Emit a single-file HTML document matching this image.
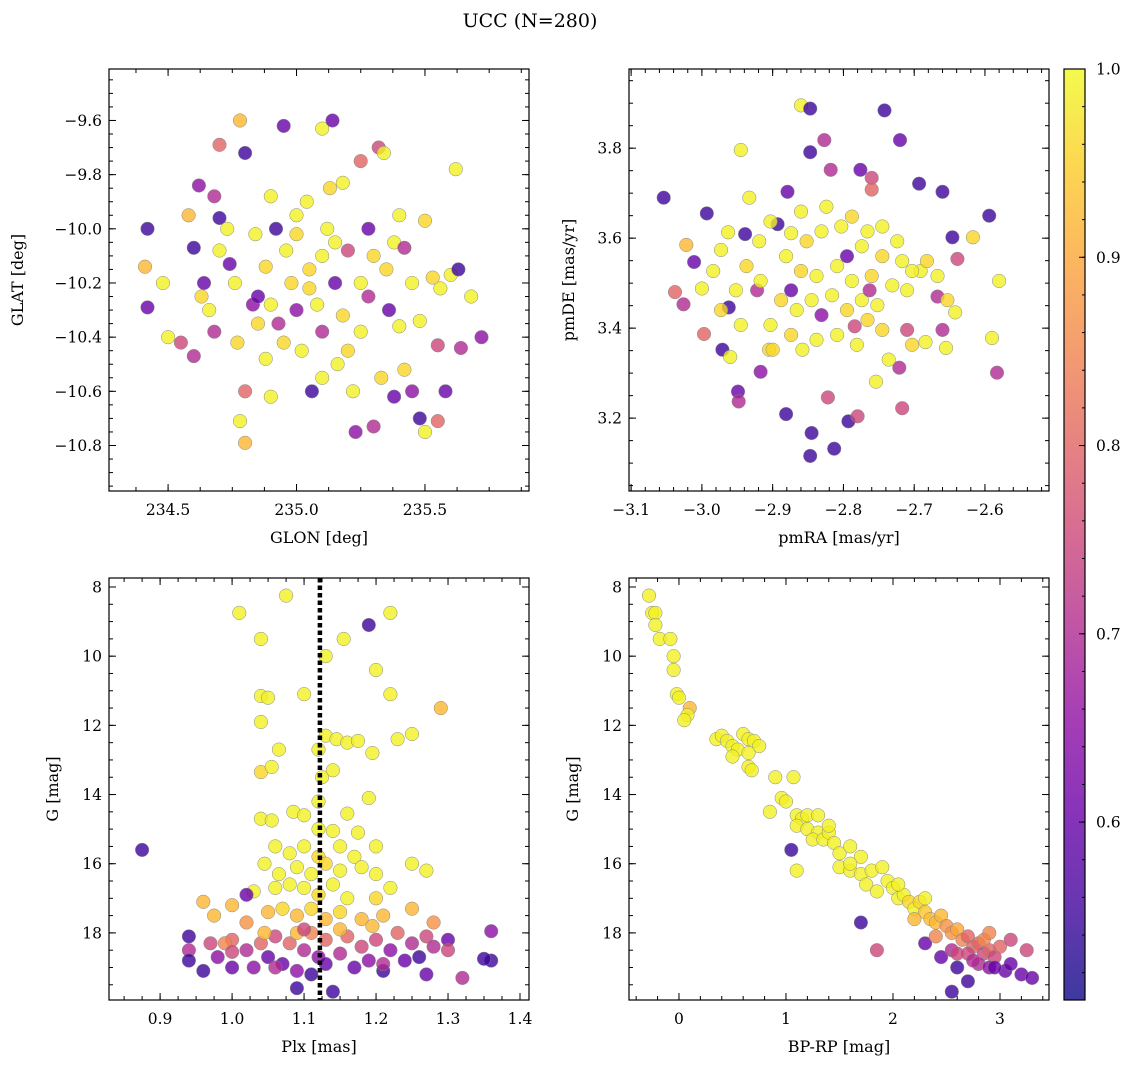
<!DOCTYPE html>
<html><head><meta charset="utf-8">
<style>
html,body{margin:0;padding:0;background:#fff;}
svg{display:block;font-family:"DejaVu Serif","Liberation Serif",serif;}
</style></head>
<body>
<svg id="fig" width="1136" height="1068" viewBox="0 0 1136 1068" xmlns="http://www.w3.org/2000/svg">
<text x="530" y="27" font-size="19" text-anchor="middle">UCC (N=280)</text>
</svg>
<script>
// ---- Panel 1: GLON / GLAT ----
const glon = [234.42,234.42,234.41,234.48,234.5,234.55,234.6,234.6,234.58,234.62,234.64,234.63,234.66,234.7,234.68,234.7,234.68,234.7,234.73,234.74,234.76,234.77,234.78,234.8,234.8,234.8,234.78,234.83,234.84,234.85,234.88,234.88,234.9,234.9,234.92,234.93,234.95,234.96,234.98,235.0,235.0,235.02,235.04,235.05,235.06,235.08,235.1,235.1,235.12,235.13,235.14,235.15,235.16,235.18,235.18,235.2,235.22,235.23,235.25,235.25,235.28,235.28,235.3,235.32,235.33,235.34,235.35,235.36,235.38,235.38,235.4,235.42,235.42,235.45,235.45,235.48,235.48,235.5,235.5,235.53,235.55,235.56,235.58,235.6,235.62,235.63,235.64,235.72,235.68,235.55,235.05,234.95,235.1,235.2,234.9,235.15,235.3,235.0,234.85,235.25,235.1,235.4];
const glat = [-10.0,-10.29,-10.14,-10.2,-10.4,-10.42,-10.47,-10.07,-9.95,-9.84,-10.2,-10.25,-10.3,-9.69,-9.88,-10.08,-10.38,-9.96,-10.0,-10.13,-10.2,-10.42,-9.6,-9.72,-10.6,-10.79,-10.71,-10.28,-10.02,-10.25,-10.48,-10.14,-9.88,-10.62,-10.0,-10.35,-9.62,-10.08,-10.2,-10.02,-10.3,-10.45,-9.9,-10.15,-10.6,-10.28,-9.63,-10.38,-10.0,-9.85,-9.6,-10.2,-10.5,-9.83,-10.32,-10.08,-10.6,-10.75,-9.75,-10.38,-10.0,-10.25,-10.73,-9.7,-10.55,-9.72,-10.15,-10.3,-10.62,-10.05,-10.36,-10.52,-10.07,-10.6,-10.2,-10.7,-10.34,-9.97,-10.75,-10.18,-10.43,-10.22,-10.6,-10.17,-9.78,-10.15,-10.44,-10.4,-10.25,-10.71,-10.22,-10.42,-10.1,-10.45,-10.28,-10.05,-10.1,-9.95,-10.35,-10.2,-10.55,-9.95];
const prob1 = [.55,.6,.92,.99,.99,.75,.7,.55,.92,.65,.6,.96,.99,.8,.7,.99,.7,.55,.99,.6,.99,.96,.92,.55,.8,.92,.99,.65,.99,.6,.99,.96,.99,.99,.55,.7,.6,.99,.96,.96,.65,.99,.99,.96,.55,.99,.99,.7,.99,.96,.6,.6,.99,.99,.96,.75,.99,.65,.8,.99,.6,.7,.7,.75,.96,.99,.96,.6,.6,.99,.99,.96,.7,.65,.99,.55,.99,.96,.99,.96,.75,.99,.6,.99,.99,.55,.7,.65,.99,.8,.96,.96,.99,.96,.99,.99,.96,.99,.96,.99,.99,.99];

// ---- Panel 2: pmRA / pmDE ----
const pmra = [-3.054,-3.038,-3.022,-3.026,-3.011,-2.997,-2.993,-3.000,-2.984,-2.963,-2.973,-2.962,-2.971,-2.949,-2.948,-2.960,-2.945,-2.933,-2.939,-2.922,-2.917,-2.905,-2.893,-2.881,-2.879,-2.860,-2.847,-2.827,-2.845,-2.847,-2.822,-2.818,-2.847,-2.813,-2.793,-2.780,-2.776,-2.742,-2.720,-2.760,-2.760,-2.717,-2.693,-2.660,-2.594,-2.583,-2.580,-2.590,-2.639,-2.646,-2.667,-2.617,-2.660,-2.655,-2.653,-2.642,-2.691,-2.684,-2.710,-2.721,-2.736,-2.754,-2.745,-2.766,-2.784,
-2.903,-2.874,-2.852,-2.831,-2.803,-2.774,-2.745,-2.717,-2.881,-2.860,-2.838,-2.809,-2.788,-2.760,-2.731,-2.710,-2.888,-2.866,-2.845,-2.816,-2.795,-2.774,-2.752,-2.903,-2.874,-2.838,-2.809,-2.781,-2.917,-2.937,-2.952,-2.973,-2.945,-2.860,-2.824,-2.788,-2.766,-2.745,-2.724,-2.703,-2.682,-2.667,-2.831,-2.874,-2.795,-2.763,-2.919,-2.900,-2.858,-2.703];
const pmde = [3.69,3.48,3.585,3.453,3.547,3.387,3.655,3.488,3.527,3.613,3.574,3.446,3.352,3.259,3.237,3.336,3.796,3.69,3.609,3.484,3.303,3.352,3.631,3.209,3.703,3.895,3.791,3.818,3.167,3.116,3.246,3.752,3.888,3.132,3.193,3.204,3.752,3.884,3.818,3.734,3.708,3.222,3.721,3.703,3.65,3.301,3.505,3.378,3.554,3.602,3.47,3.602,3.396,3.356,3.462,3.435,3.527,3.369,3.396,3.312,3.33,3.281,3.396,3.418,3.404,
3.637,3.611,3.593,3.615,3.626,3.582,3.56,3.549,3.56,3.527,3.516,3.538,3.505,3.516,3.495,3.484,3.462,3.44,3.462,3.473,3.44,3.462,3.451,3.407,3.385,3.374,3.385,3.363,3.505,3.538,3.484,3.44,3.407,3.659,3.67,3.648,3.615,3.626,3.593,3.527,3.549,3.516,3.429,3.484,3.56,3.484,3.593,3.352,3.352,3.363];
const prob2 = [.55,.8,.92,.7,.6,.8,.55,.99,.99,.99,.99,.55,.55,.6,.7,.99,.99,.99,.55,.7,.65,.96,.55,.55,.6,.99,.55,.7,.55,.55,.75,.7,.55,.55,.55,.75,.6,.55,.6,.75,.8,.75,.55,.55,.55,.7,.99,.99,.75,.55,.7,.96,.7,.99,.96,.99,.99,.99,.75,.7,.99,.99,.96,.96,.75,
.99,.99,.96,.99,.99,.99,.96,.99,.99,.96,.99,.99,.99,.96,.99,.99,.96,.99,.99,.99,.96,.99,.99,.99,.96,.99,.99,.99,.99,.96,.99,.96,.99,.99,.99,.96,.99,.99,.99,.99,.96,.99,.65,.6,.6,.7,.99,.96,.99,.96];

// ---- Panel 3: Plx / G ----
const plx = [1.01,1.075,1.22,1.04,1.155,1.19,1.13,1.2,1.1,1.04,1.05,1.04,1.22,1.29,1.065,1.12,1.13,1.145,1.16,1.175,1.23,1.25,1.195,1.125,1.04,1.055,1.14,1.04,1.055,1.085,1.1,1.12,1.16,1.19,1.12,1.14,1.175,1.06,1.08,1.1,1.12,1.15,1.17,1.2,1.045,1.065,1.09,1.11,1.13,1.15,1.18,1.2,1.25,1.27,1.03,1.06,1.08,1.1,1.12,1.14,1.16,1.2,1.22,0.96,0.975,1.0,1.02,1.05,1.07,1.09,1.11,1.13,1.15,1.18,1.21,1.25,1.28,
0.875,0.94,0.94,0.94,0.96,0.97,0.98,1.0,1.0,1.02,1.03,1.04,1.05,1.06,1.07,1.08,1.09,1.1,1.11,1.11,1.12,1.13,1.14,1.15,1.16,1.17,1.18,1.19,1.2,1.21,1.22,1.23,1.24,1.25,1.26,1.27,1.28,1.3,1.32,1.36,1.36,1.35,1.02,1.045,1.09,1.15,1.195,1.1,0.99,1.3,1.27,1.09,1.21,1.13,1.06,1.0];
const gmag1 = [8.75,8.25,8.75,9.5,9.5,9.1,10.0,10.4,11.1,11.15,11.2,11.9,11.1,11.5,12.7,12.7,12.3,12.4,12.5,12.45,12.4,12.25,12.8,13.5,13.35,13.2,13.3,14.7,14.75,14.5,14.6,14.2,14.55,14.1,15.0,15.05,15.1,15.5,15.7,15.5,15.8,15.5,15.8,15.5,16.0,16.3,16.1,16.3,16.0,16.2,16.1,16.3,16.0,16.2,16.8,16.7,16.6,16.7,16.9,16.6,17.0,17.0,16.7,17.1,17.5,17.2,17.7,17.4,17.3,17.5,17.3,17.6,17.4,17.6,17.5,17.3,17.7,
15.6,18.1,18.5,18.8,19.1,18.3,18.7,18.2,19.0,18.5,19.0,18.3,18.7,18.1,18.9,18.3,19.1,18.5,18.0,19.2,18.7,18.2,19.7,18.6,18.1,19.0,18.4,18.8,18.2,19.1,18.5,18.0,18.8,18.3,18.7,18.1,18.4,18.2,19.3,17.95,18.8,18.75,16.9,18.0,18.0,17.9,17.8,17.9,18.3,18.5,19.2,19.6,18.9,18.9,19.0,18.55];
const prob3 = [.99,.99,.99,.99,.99,.55,.99,.99,.99,.99,.99,.99,.99,.92,.99,.99,.99,.99,.99,.99,.99,.99,.99,.99,.96,.99,.99,.99,.99,.99,.99,.99,.99,.99,.99,.99,.99,.99,.99,.99,.96,.99,.99,.99,.99,.99,.99,.99,.96,.99,.99,.99,.99,.99,.99,.99,.99,.99,.96,.99,.99,.96,.99,.92,.92,.92,.87,.92,.96,.92,.96,.92,.96,.92,.92,.92,.87,
.55,.55,.7,.55,.55,.75,.65,.8,.6,.7,.65,.8,.6,.75,.6,.8,.65,.7,.85,.55,.65,.8,.55,.7,.8,.6,.75,.65,.75,.55,.65,.8,.6,.7,.55,.75,.7,.6,.7,.65,.55,.55,.6,.92,.92,.92,.92,.75,.85,.75,.6,.55,.7,.6,.7,.75];

// ---- Panel 4: BP-RP / G ----
const bprp = [-0.28,-0.25,-0.22,-0.22,-0.18,-0.08,-0.05,-0.05,-0.02,0.0,0.1,0.08,0.05,0.35,0.4,0.45,0.5,0.55,0.6,0.65,0.7,0.75,0.65,0.65,0.68,0.9,1.07,0.96,1.0,0.85,1.1,1.15,1.2,1.3,1.1,1.2,1.3,1.25,1.35,1.4,1.45,1.5,1.6,1.7,1.05,1.1,1.5,1.6,1.7,1.8,1.9,1.95,2.0,1.75,1.85,2.05,2.1,2.15,2.2,2.25,2.3,2.35,2.4,2.45,2.5,2.55,2.6,2.65,2.7,2.75,2.8,2.85,2.9,2.95,3.0,2.7,2.8,2.9,3.05,3.1,3.2,3.3,3.25,3.1,2.6,2.7,2.55,1.7,1.85,2.45,2.3,2.55,2.4,2.6,2.75,2.85,2.95,2.2,2.9,2.05,2.3,1.6,1.4,0.5];
const gmag2 = [8.25,8.75,8.75,9.1,9.5,9.5,10.0,10.4,11.1,11.2,11.5,11.7,11.85,12.4,12.3,12.45,12.6,12.7,12.25,12.4,12.45,12.6,12.8,13.2,13.3,13.5,13.5,14.1,14.2,14.5,14.6,14.7,14.6,14.6,14.9,15.0,15.1,15.3,15.3,15.1,15.4,15.7,15.5,15.8,15.6,16.2,16.1,16.2,16.3,16.2,16.1,16.5,16.7,16.6,16.8,17.0,16.9,17.1,17.3,17.1,17.4,17.6,17.7,17.5,17.8,18.0,17.9,18.2,18.1,18.4,18.3,18.6,18.5,18.7,18.4,18.6,18.9,19.0,19.1,18.9,19.2,19.3,18.5,18.2,19.0,19.4,19.7,17.7,18.5,18.7,18.3,18.5,18.1,18.6,18.8,18.2,19.0,17.6,18.0,16.6,17.0,16.0,14.9,12.9];
const prob4 = [.99,.99,.99,.99,.99,.99,.99,.99,.99,.99,.92,.99,.99,.99,.99,.99,.99,.99,.99,.99,.99,.99,.99,.99,.99,.99,.99,.99,.99,.99,.99,.99,.99,.99,.99,.99,.99,.99,.99,.99,.99,.99,.99,.99,.55,.99,.99,.99,.99,.99,.99,.99,.99,.99,.99,.99,.99,.96,.99,.96,.94,.93,.92,.92,.87,.87,.9,.85,.8,.8,.8,.75,.8,.75,.8,.75,.7,.65,.6,.6,.6,.6,.75,.75,.55,.55,.55,.55,.75,.6,.6,.7,.85,.75,.7,.85,.6,.92,.85,.99,.99,.99,.99,.99];

const cbTicks = [1.0,0.9,0.8,0.7,0.6];
const plxLine = 1.122;

const NS='http://www.w3.org/2000/svg';
const svg=document.getElementById('fig');
function mk(tag,attrs,parent){const e=document.createElementNS(NS,tag);for(const k in attrs)e.setAttribute(k,attrs[k]);(parent||svg).appendChild(e);return e;}

const stops=[[13,8,135],[65,4,157],[106,0,168],[143,13,164],[177,42,144],[204,71,120],[225,100,98],[242,132,75],[252,166,54],[252,206,37],[240,249,33]];
const VMIN=0.5055,VMAX=1.0;
function cmap(p){let t=(p-VMIN)/(VMAX-VMIN);t=Math.max(0,Math.min(1,t))*10;const i=Math.min(9,Math.floor(t)),f=t-i;const a=stops[i],b=stops[i+1];return 'rgb('+a.map((v,k)=>Math.round(v+(b[k]-v)*f)).join(',')+')';}

function lin(d0,d1,r0,r1){return v=>r0+(v-d0)/(d1-d0)*(r1-r0);}

function panel(cfg){
  const g=mk('g',{});
  
  
  const {L,T,R,B}=cfg;
  const sx=lin(cfg.xd[0],cfg.xd[1],L,R), sy=lin(cfg.yd[0],cfg.yd[1],T,B);
  const clipId='c'+cfg.name;
  const cp=mk('clipPath',{id:clipId},g);mk('rect',{x:L,y:T,width:R-L,height:B-T},cp);
  const pts=mk('g',{'clip-path':'url(#'+clipId+')'},g);
  for(let i=0;i<cfg.xs.length;i++){
    const c=mk('circle',{cx:sx(cfg.xs[i]).toFixed(1),cy:sy(cfg.ys[i]).toFixed(1),r:6.8,fill:cmap(cfg.ps[i]),'fill-opacity':0.8,stroke:'#888','stroke-width':0.5},pts);
    
    
  }
  if(cfg.vline!==undefined){
    const l=mk('line',{x1:sx(cfg.vline),x2:sx(cfg.vline),y1:T,y2:B,stroke:'#000','stroke-width':4.5,'stroke-dasharray':'4.5,3'},g);
    
    
  }
  mk('rect',{x:L,y:T,width:R-L,height:B-T,fill:'none',stroke:'#000','stroke-width':1.2},g);
  const eps=1e-9;
  function xt(step,len,labels){
    const s=Math.ceil((Math.min(...cfg.xd)-eps)/step), e=Math.floor((Math.max(...cfg.xd)+eps)/step);
    for(let k=s;k<=e;k++){const v=k*step,x=sx(v);
      mk('line',{x1:x,x2:x,y1:B,y2:B-len,stroke:'#000','stroke-width':1},g);
      mk('line',{x1:x,x2:x,y1:T,y2:T+len,stroke:'#000','stroke-width':1},g);
      if(labels){const t=mk('text',{x:x,y:B+24,'font-size':15.5,'text-anchor':'middle'},g);t.textContent=cfg.xfmt(v);
        }
    }}
  function yt(step,len,labels){
    const s=Math.ceil((Math.min(...cfg.yd)-eps)/step), e=Math.floor((Math.max(...cfg.yd)+eps)/step);
    for(let k=s;k<=e;k++){const v=k*step,y=sy(v);
      mk('line',{x1:L,x2:L+len,y1:y,y2:y,stroke:'#000','stroke-width':1},g);
      mk('line',{x1:R,x2:R-len,y1:y,y2:y,stroke:'#000','stroke-width':1},g);
      if(labels){const t=mk('text',{x:L-7,y:y+5.5,'font-size':15.5,'text-anchor':'end'},g);t.textContent=cfg.yfmt(v);
        }
    }}
  xt(cfg.xminor,4,false);xt(cfg.xmajor,7,true);yt(cfg.yminor,4,false);yt(cfg.ymajor,7,true);
  const xl=mk('text',{x:(L+R)/2,y:B+52,'font-size':16,'text-anchor':'middle'},g);xl.textContent=cfg.xlabel;
  
  const yx=cfg.ylx;
  const yl=mk('text',{x:yx,y:(T+B)/2,'font-size':16,'text-anchor':'middle',transform:'rotate(-90 '+yx+' '+(T+B)/2+')'},g);yl.textContent=cfg.ylabel;
  
}
const minus=s=>s.replace('-','\u2212');
panel({name:'glon-glat-panel',L:109,T:69,R:529,B:491,xd:[234.27,235.905],yd:[-9.41,-10.968],xs:glon,ys:glat,ps:prob1,
  xmajor:0.5,xminor:0.125,ymajor:0.2,yminor:0.05,xfmt:v=>v.toFixed(1),yfmt:v=>minus(v.toFixed(1)),xlabel:'GLON [deg]',ylabel:'GLAT [deg]',ylx:23});
panel({name:'pm-panel',L:629,T:69,R:1049,B:491,xd:[-3.103,-2.5095],yd:[3.976,3.038],xs:pmra,ys:pmde,ps:prob2,
  xmajor:0.1,xminor:0.02,ymajor:0.2,yminor:0.05,xfmt:v=>minus(v.toFixed(1)),yfmt:v=>v.toFixed(1),xlabel:'pmRA [mas/yr]',ylabel:'pmDE [mas/yr]',ylx:574});
panel({name:'plx-g-panel',L:109,T:578,R:529,B:1000,xd:[0.829,1.4125],yd:[7.74,19.94],xs:plx,ys:gmag1,ps:prob3,vline:plxLine,
  xmajor:0.1,xminor:0.025,ymajor:2,yminor:0.5,xfmt:v=>v.toFixed(1),yfmt:v=>String(Math.round(v)),xlabel:'Plx [mas]',ylabel:'G [mag]',ylx:58});
panel({name:'cmd-panel',L:629,T:578,R:1049,B:1000,xd:[-0.467,3.458],yd:[7.74,19.94],xs:bprp,ys:gmag2,ps:prob4,
  xmajor:1,xminor:0.2,ymajor:2,yminor:0.5,xfmt:v=>String(Math.round(v)),yfmt:v=>String(Math.round(v)),xlabel:'BP-RP [mag]',ylabel:'G [mag]',ylx:578});

// colorbar
const cb=mk('g',{});


const CL=1064,CR=1085,CT=69,CB=1000;
const grad=mk('linearGradient',{id:'plasma',x1:0,y1:1,x2:0,y2:0},cb);
stops.forEach((s,i)=>mk('stop',{offset:(i/10),'stop-color':'rgb('+s.join(',')+')','stop-opacity':0.8},grad));
mk('rect',{x:CL,y:CT,width:CR-CL,height:CB-CT,fill:'url(#plasma)',stroke:'#000','stroke-width':1.2},cb);
const cy=lin(VMIN,VMAX,CB,CT);
for(let v=0.52;v<=1.0001;v+=0.02){const y=cy(v);mk('line',{x1:CR,x2:CR-3,y1:y,y2:y,stroke:'#000','stroke-width':1},cb);}
cbTicks.forEach(v=>{const y=cy(v);mk('line',{x1:CR,x2:CR-6,y1:y,y2:y,stroke:'#000','stroke-width':1},cb);
  const t=mk('text',{x:CR+11,y:y+5.5,'font-size':15.5},cb);t.textContent=v.toFixed(1);
  });
</script>
</body></html>
